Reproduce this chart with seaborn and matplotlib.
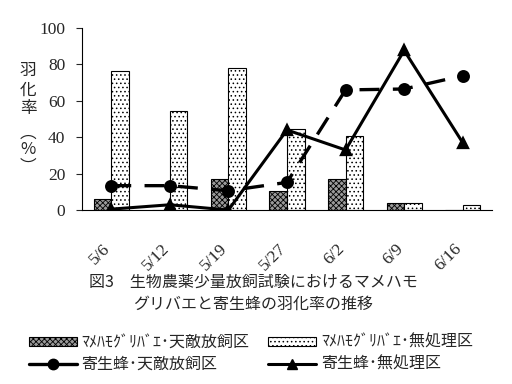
import pandas as pd
import numpy as np
import seaborn as sns
import matplotlib.pyplot as plt
from matplotlib.patches import Patch
from matplotlib.lines import Line2D

# data
dates = ["5/6", "5/12", "5/19", "5/27", "6/2", "6/9", "6/16"]
fly_release = [6.0, 0.0, 17.0, 10.5, 17.0, 4.0, 0.0]       # ﾏﾒﾊﾓｸﾞﾘﾊﾞｴ･天敵放飼区
fly_control = [76.5, 54.4, 78.0, 44.5, 40.8, 4.0, 2.7]     # ﾏﾒﾊﾓｸﾞﾘﾊﾞｴ･無処理区
wasp_release = [13.4, 13.4, 10.6, 15.2, 66.0, 66.5, 73.8]  # 寄生蜂･天敵放飼区
wasp_control = [0.5, 2.9, 0.0, 44.0, 33.0, 87.7, 37.0]     # 寄生蜂･無処理区

lab_fr = "ﾏﾒﾊﾓｸﾞﾘﾊﾞｴ･天敵放飼区"
lab_fc = "ﾏﾒﾊﾓｸﾞﾘﾊﾞｴ･無処理区"
lab_wr = "寄生蜂･天敵放飼区"
lab_wc = "寄生蜂･無処理区"

sns.set_style("white")
plt.rcParams['font.family'] = ['Noto Sans CJK JP', 'DejaVu Sans']
plt.rcParams['hatch.linewidth'] = 0.6

bars = pd.DataFrame({
    "date": dates * 2,
    "rate": fly_release + fly_control,
    "group": [lab_fr] * len(dates) + [lab_fc] * len(dates),
})

fig = plt.figure(figsize=(5.12, 3.84), dpi=100)
ax = fig.add_axes([0.160, 0.453, 0.801, 0.474])

sns.barplot(data=bars, x="date", y="rate", hue="group", order=dates,
            hue_order=[lab_fr, lab_fc], palette=["#9a9a9a", "white"],
            width=0.6, errorbar=None, ax=ax, legend=False,
            edgecolor="black", linewidth=0.8, saturation=1)
for patch, h in zip(ax.patches, ["xxxxxx"] * len(dates) + ["...."] * len(dates)):
    patch.set_hatch(h)

sns.pointplot(x=dates, y=wasp_release, order=dates, color="black", marker="o",
              markersize=7.5, linestyle=(0, (6, 4)), linewidth=2.4, errorbar=None, ax=ax)
sns.pointplot(x=dates, y=wasp_control, order=dates, color="black", marker="^",
              markersize=7.5, linestyle="-", linewidth=2.2, errorbar=None, ax=ax)

ax.set_xlim(-0.5, 6.5)
ax.set_ylim(0, 100)
ax.set_yticks([0, 20, 40, 60, 80, 100])
ax.set_yticklabels(["0", "20", "40", "60", "80", "100"], family="Liberation Serif", fontsize=12.5)
ax.set_xticks(np.arange(-0.5, 7, 1))
ax.set_xticklabels([])
ax.set_xticks(np.arange(7) - 0.15, minor=True)
ax.set_xticklabels(dates, minor=True, rotation=45, ha="right", rotation_mode="anchor",
                   family="Liberation Serif", fontsize=12.5)
ax.tick_params(axis="x", which="minor", length=0, pad=22)
ax.tick_params(axis="x", which="major", direction="in", length=4, width=0.8)
ax.tick_params(axis="y", direction="out", length=4, width=0.8, left=True, pad=8)
ax.set_xlabel("")
ax.set_ylabel("")
for side in ["top", "right"]:
    ax.spines[side].set_visible(False)
for side in ["left", "bottom"]:
    ax.spines[side].set_color("black")
    ax.spines[side].set_linewidth(0.8)

# vertical y label, one character per line
for ch, ypix in zip(["羽", "化", "率", "︵", "%", "︶"], [70, 90, 109, 133, 150, 167]):
    fig.text(0.055, 1 - ypix / 384, ch, ha="center", va="center", fontsize=12)

fig.text(0.495, 0.236, "図3　生物農薬少量放飼試験におけるマメハモ\nグリバエと寄生蜂の羽化率の推移",
         ha="center", va="center", fontsize=11.5, linespacing=1.4)

handles = [
    Patch(facecolor="#9a9a9a", edgecolor="black", hatch="xxxxxx", linewidth=0.8),
    Line2D([], [], color="black", marker="o", markersize=7.5, linewidth=2.4),
    Patch(facecolor="white", edgecolor="black", hatch="....", linewidth=0.8),
    Line2D([], [], color="black", marker="^", markersize=7.5, linewidth=2.2),
]
labels = [lab_fr, lab_wr, lab_fc, lab_wc]
fig.legend(handles, labels, loc="center", bbox_to_anchor=(0.49, 0.08), ncol=2,
           frameon=False, fontsize=11.5, handlelength=3.0, handleheight=0.5,
           handletextpad=0.3, columnspacing=1.2, labelspacing=0.3)

fig.savefig("out.png", dpi=100)
